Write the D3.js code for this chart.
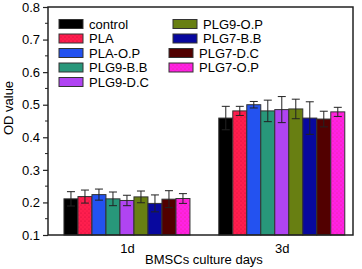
<!DOCTYPE html>
<html><head><meta charset="utf-8">
<script src="https://cdn.jsdelivr.net/npm/d3@7"></script>
<style>body{margin:0;background:#fff}svg{display:block}text{font-family:"Liberation Sans",Arial,sans-serif}</style>
</head><body><svg id="c" width="362" height="269"></svg>
<script>
const categories = ["1d", "3d"];
const series = ["control","PLA","PLA-O.P","PLG9-B.B","PLG9-D.C","PLG9-O.P","PLG7-B.B","PLG7-D.C","PLG7-O.P"];
const values1d = [0.211,0.218,0.224,0.211,0.206,0.217,0.197,0.210,0.212];
const errors1d = [0.022,0.020,0.017,0.021,0.016,0.018,0.026,0.026,0.015];
const values3d = [0.459,0.481,0.500,0.481,0.485,0.487,0.459,0.456,0.478];
const errors3d = [0.036,0.014,0.010,0.033,0.040,0.030,0.050,0.024,0.014];
const colors = ["#000000","#ff1e4e","#2352f0","#28977a","#b044f2","#687f12","#08089e","#520000","#ff22e4"];
const yTicks = [0.1,0.2,0.3,0.4,0.5,0.6,0.7,0.8];

const svg = d3.select("#c");
const L=48,R=353,T=7,B=235;
const x = d3.scaleLinear().domain([0.49,2.46]).range([L,R]);
const y = d3.scaleLinear().domain([0.1,0.8]).range([B,T]);
const bw = 14;
const defs = svg.append("defs");
function dotPattern(id, base, dot){
  const p = defs.append("pattern").attr("id",id).attr("width",4).attr("height",4).attr("patternUnits","userSpaceOnUse");
  p.append("rect").attr("width",4).attr("height",4).attr("fill",base);
  p.append("circle").attr("cx",1).attr("cy",1).attr("r",0.5).attr("fill",dot);
  p.append("circle").attr("cx",3).attr("cy",3).attr("r",0.4).attr("fill",dot);
}
dotPattern("p1","#ff1e4e","#c00030");
dotPattern("p8","#ff22e4","#e0206a");
const fills = colors.map((c,i)=> i===1?"url(#p1)":(i===8?"url(#p8)":c));

const data = [values1d, values3d];
const errs = [errors1d, errors3d];
categories.forEach((cat,ci)=>{
  const cx = x(ci+1);
  const x0 = cx - bw*series.length/2;
  series.forEach((s,si)=>{
    const v = data[ci][si], e = errs[ci][si];
    const bx = x0 + si*bw;
    svg.append("rect").attr("x",bx).attr("y",y(v)).attr("width",bw).attr("height",y(0.1)-y(v))
      .attr("fill",fills[si]).attr("stroke","#333").attr("stroke-width",1);
    const mx = bx+bw/2;
    const g = svg.append("g").attr("stroke","#222").attr("stroke-width",1);
    g.append("line").attr("x1",mx).attr("x2",mx).attr("y1",y(v+e)).attr("y2",y(v-e));
    g.append("line").attr("x1",mx-4).attr("x2",mx+4).attr("y1",y(v+e)).attr("y2",y(v+e));
    g.append("line").attr("x1",mx-4).attr("x2",mx+4).attr("y1",y(v-e)).attr("y2",y(v-e));
  });
});

// frame
svg.append("rect").attr("x",L).attr("y",T).attr("width",R-L).attr("height",B-T).attr("fill","none").attr("stroke","#222").attr("stroke-width",1.5);

// y axis
const yAxis = d3.axisLeft(y).tickValues(yTicks).tickFormat(d3.format(".1f")).tickSize(5).tickPadding(3);
const ya = svg.append("g").attr("transform",`translate(${L},0)`).call(yAxis);
ya.select(".domain").remove();
ya.selectAll("text").attr("font-size",13).attr("fill","#000");
ya.selectAll("line").attr("stroke","#222").attr("stroke-width",1.2);
const minor = d3.range(0.15,0.8,0.1);
svg.append("g").selectAll("line").data(minor).join("line")
  .attr("x1",L-3).attr("x2",L).attr("y1",d=>y(d)).attr("y2",d=>y(d)).attr("stroke","#222").attr("stroke-width",1);

// x axis
const xAxis = d3.axisBottom(x).tickValues([1,2]).tickFormat((d,i)=>categories[i]).tickSize(0).tickPadding(9);
const xa = svg.append("g").attr("transform",`translate(0,${B})`).call(xAxis);
xa.select(".domain").remove();
xa.selectAll("text").attr("font-size",13).attr("fill","#000");

svg.append("text").attr("x",204).attr("y",264).attr("text-anchor","middle").attr("font-size",13).text("BMSCs culture days");
svg.append("text").attr("transform",`translate(13,108) rotate(-90)`).attr("text-anchor","middle").attr("font-size",13).text("OD value");

// legend
const legPos = [[59,24],[59,38.5],[59,53],[59,67.5],[59,82],[173,24],[173,38.5],[169,53],[169,67.5]];
series.forEach((s,i)=>{
  const [lx,ly] = legPos[i];
  svg.append("rect").attr("x",lx).attr("y",ly-4.5).attr("width",24).attr("height",9)
    .attr("fill",fills[i]).attr("stroke","#333").attr("stroke-width",1);
  svg.append("text").attr("x",lx+30).attr("y",ly+4.5).attr("font-size",13).text(s);
});
</script></body></html>
